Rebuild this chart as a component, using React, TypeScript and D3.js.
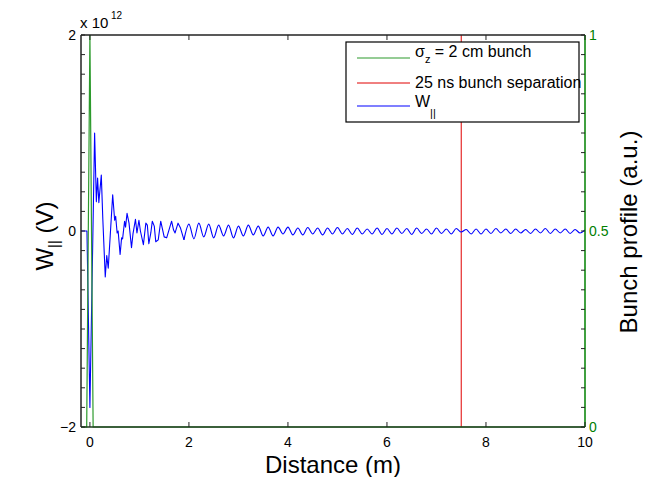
import React from "react";
import * as d3 from "d3";

// ---- Data ----
// Wake potential W|| (units of 1e12 V) vs distance (m)
const wakeX: number[] = [
  -0.2, -0.06, 0.0, 0.095, 0.13, 0.155, 0.18, 0.23, 0.26, 0.31, 0.34, 0.37, 0.41, 0.46, 0.5, 0.52, 0.55,
  0.57, 0.61, 0.64, 0.66, 0.7, 0.72, 0.75, 0.79, 0.84, 0.87, 0.92, 0.95, 0.99, 1.02, 1.08, 1.13, 1.16,
  1.19, 1.23, 1.26, 1.3, 1.33, 1.38, 1.43, 1.5, 1.55, 1.65, 1.69, 1.72, 1.78, 1.83, 1.9,
  2.0, 2.1, 2.2, 2.3, 2.4, 2.5, 2.6, 2.7, 2.8, 2.9, 3.0, 3.1, 3.2, 3.3, 3.4, 3.5, 3.6, 3.7, 3.8, 3.9,
  4.0, 4.1, 4.2, 4.3, 4.4, 4.5, 4.6, 4.7, 4.8, 4.9, 5.0, 5.1, 5.2, 5.3, 5.4, 5.5, 5.6, 5.7, 5.8, 5.9,
  6.0, 6.1, 6.2, 6.3, 6.4, 6.5, 6.6, 6.7, 6.8, 6.9, 7.0, 7.1, 7.2, 7.3, 7.4, 7.5, 7.6, 7.7, 7.8, 7.9,
  8.0, 8.1, 8.2, 8.3, 8.4, 8.5, 8.6, 8.7, 8.8, 8.9, 9.0, 9.1, 9.2, 9.3, 9.4, 9.5, 9.6, 9.7, 9.8, 9.9, 10.0,
];
const wakeV: number[] = [
  0, 0, -1.8, 1.0, 0.3, 0.54, 0.29, 0.57, 0.13, -0.47, -0.25, -0.38, -0.05, 0.37, 0.11, 0.15, -0.02,
  0.0, -0.24, -0.07, -0.08, 0.1, 0.04, 0.18, 0.08, -0.17, -0.03, 0.12, -0.02, 0.11, 0.0, -0.14, 0.08, 0.06,
  -0.13, -0.02, 0.1, 0.05, -0.11, -0.09, 0.1, -0.06, -0.07, 0.1, 0.01, -0.02, 0.08, 0.03, -0.09,
  0.07, -0.08, 0.08, -0.06, 0.07, -0.07, 0.06, -0.05, 0.06, -0.07, 0.05, -0.05, 0.06, -0.04, 0.05, -0.05, 0.04, -0.05, 0.04, -0.03,
  0.04, -0.04, 0.03, -0.04, 0.035, -0.03, 0.03, -0.04, 0.03, -0.03, 0.035, -0.03, 0.025, -0.035, 0.03, -0.03, 0.02, -0.03, 0.03, -0.035,
  0.025, -0.03, 0.03, -0.025, 0.025, -0.035, 0.03, -0.025, 0.02, -0.03, 0.03, -0.025, 0.02, -0.03, 0.025, -0.01, 0.015, -0.03, 0.02, -0.03,
  0.02, -0.025, 0.025, -0.02, 0.02, -0.025, 0.02, -0.02, 0.015, -0.025, 0.02, -0.02, 0.025, -0.025, 0.02, -0.02, 0.02, -0.025, 0.015, -0.02, 0.01,
];
// distance where the wake becomes a smooth ringing tail
const smoothFrom = 1.9;

// Bunch profile (normalized, right axis)
const bunchX: number[] = [-0.2, -0.065, 0.0, 0.065, 10.0];
const bunchV: number[] = [0, 0, 1, 0, 0];

// Bunch separation (25 ns * c)
const separation = 7.5;

const xTicks: number[] = [0, 2, 4, 6, 8, 10];
const yLeftTicks: number[] = [-2, 0, 2];
const yLeftTickLabels: string[] = ["\u22122", "0", "2"];
const yRightTicks: number[] = [0, 0.5, 1];
const yRightTickLabels: string[] = ["0", "0.5", "1"];

const legendLabels: string[] = ["σz = 2 cm bunch", "25 ns bunch separation", "W||"];

export default function App() {
  const W = 655, H = 477;
  const L = 81, R = 585, T = 35, B = 427;
  const font = "'Liberation Sans', Arial, Helvetica, sans-serif";
  const green = "#008000";
  const bunchGreen = "#2c9a2c";

  const x = d3.scaleLinear().domain([-0.18, 10]).range([L, R]);
  const yL = d3.scaleLinear().domain([-2, 2]).range([B, T]);
  const yR = d3.scaleLinear().domain([0, 1]).range([B, T]);

  const wakePts = wakeX.map((d, i) => [d, wakeV[i]] as [number, number]);
  const early = wakePts.filter((d) => d[0] <= smoothFrom);
  const late = wakePts.filter((d) => d[0] >= smoothFrom);
  const bunchPts = bunchX.map((d, i) => [d, bunchV[i]] as [number, number]);

  const earlyLine = d3
    .line<[number, number]>()
    .x((d) => x(d[0]))
    .y((d) => yL(d[1]))(early) as string;
  const lateLine = d3
    .line<[number, number]>()
    .x((d) => x(d[0]))
    .y((d) => yL(d[1]))
    .curve(d3.curveMonotoneX)(late) as string;
  const bunchLine = d3
    .line<[number, number]>()
    .x((d) => x(d[0]))
    .y((d) => yR(d[1]))(bunchPts) as string;

  const minor = yR.ticks(20);

  return (
    <svg
      width={W}
      height={H}
      style={{ position: "absolute", left: 0, top: 0, background: "#fff" }}
      fontFamily={font}
    >
      <defs>
        <clipPath id="plotclip">
          <rect x={L} y={T - 1} width={R - L} height={B - T + 2} />
        </clipPath>
      </defs>
      <rect x={0} y={0} width={W} height={H} fill="#fff" />

      {/* data */}
      <g clipPath="url(#plotclip)">
        <line x1={x(separation)} x2={x(separation)} y1={T} y2={B} stroke="#e00000" strokeWidth={1} />
        <path d={earlyLine} fill="none" stroke="#0000ff" strokeWidth={1.1} strokeLinejoin="round" />
        <path d={lateLine} fill="none" stroke="#0000ff" strokeWidth={1.1} />
        <path d={bunchLine} fill="none" stroke={bunchGreen} strokeWidth={1.2} />
      </g>

      {/* axes frame */}
      <line x1={L} x2={R} y1={T} y2={T} stroke="#222" strokeWidth={1.5} />
      <line x1={L} x2={L} y1={T} y2={B} stroke="#222" strokeWidth={1.5} />
      <line x1={L} x2={R} y1={B} y2={B} stroke="#1e3d1e" strokeWidth={1.5} />
      <line x1={R} x2={R} y1={T} y2={B} stroke={green} strokeWidth={1.5} />

      {/* minor y ticks */}
      {minor.map((t) => (
        <g key={"m" + t}>
          <line x1={L} x2={L + 4} y1={yR(t)} y2={yR(t)} stroke="#222" strokeWidth={1} />
          <line x1={R} x2={R - 4} y1={yR(t)} y2={yR(t)} stroke="#222" strokeWidth={1} />
        </g>
      ))}

      {/* x ticks */}
      {xTicks.map((t) => (
        <g key={"x" + t}>
          <line x1={x(t)} x2={x(t)} y1={B} y2={B - 5} stroke="#222" strokeWidth={1} />
          <line x1={x(t)} x2={x(t)} y1={T} y2={T + 5} stroke="#222" strokeWidth={1} />
          <text x={x(t)} y={447} fontSize={14} textAnchor="middle" fill="#000">
            {t}
          </text>
        </g>
      ))}

      {/* left tick labels */}
      {yLeftTicks.map((t, i) => (
        <text key={"yl" + t} x={76} y={yL(t) + 5} fontSize={14} textAnchor="end" fill="#000">
          {yLeftTickLabels[i]}
        </text>
      ))}
      {/* right tick labels */}
      {yRightTicks.map((t, i) => (
        <text key={"yr" + t} x={589} y={yR(t) + 5} fontSize={14} textAnchor="start" fill={green}>
          {yRightTickLabels[i]}
        </text>
      ))}

      {/* exponent */}
      <text x={80} y={28} fontSize={15} fill="#000">
        x 10
      </text>
      <text x={111} y={19} fontSize={10} fill="#000">
        12
      </text>

      {/* axis labels */}
      <text x={(L + R) / 2} y={473} fontSize={24} textAnchor="middle" fill="#000">
        Distance (m)
      </text>
      <text transform={`translate(53,236) rotate(-90)`} fontSize={24} textAnchor="middle" fill="#000">
        W<tspan fontSize={15} dy={6}>||</tspan>
        <tspan dy={-6}> (V)</tspan>
      </text>
      <text transform={`translate(637,232) rotate(-90)`} fontSize={24} textAnchor="middle" fill="#000">
        Bunch profile (a.u.)
      </text>

      {/* legend */}
      <rect x={346} y={42} width={233} height={80} fill="#fff" stroke="#000" strokeWidth={1.2} />
      <line x1={357} x2={410} y1={58} y2={58} stroke={bunchGreen} strokeWidth={1.2} />
      <line x1={357} x2={410} y1={83} y2={83} stroke="#e00000" strokeWidth={1} />
      <line x1={357} x2={410} y1={106} y2={106} stroke="#0000ff" strokeWidth={1.1} />
      <text x={415} y={57} fontSize={16} fill="#000">
        {legendLabels[0].slice(0, 1)}
        <tspan fontSize={11} dy={6}>
          {legendLabels[0].slice(1, 2)}
        </tspan>
        <tspan dy={-6}>{legendLabels[0].slice(2)}</tspan>
      </text>
      <text x={415} y={88} fontSize={16} fill="#000">
        {legendLabels[1]}
      </text>
      <text x={415} y={106.5} fontSize={16} fill="#000">
        {legendLabels[2].slice(0, 1)}
        <tspan fontSize={11} dy={10}>
          {legendLabels[2].slice(1)}
        </tspan>
      </text>
    </svg>
  );
}
